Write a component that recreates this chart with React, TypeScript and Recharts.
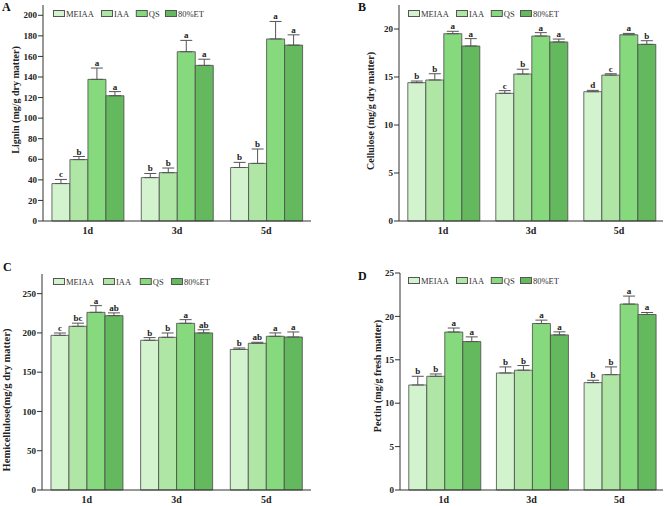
import React from "react";
import { BarChart, Bar, XAxis, YAxis, ErrorBar, LabelList, Legend } from "recharts";

const days = ["1d", "3d", "5d"];
const series = ["MEIAA", "IAA", "QS", "80%ET"];
const colors = ["#d3f2ce", "#afe6a5", "#87d97d", "#64b85e"];

// A: lignin, per series (MEIAA, IAA, QS, 80%ET) across 1d / 3d / 5d
const ligninValues = [
  [36.4, 42.2, 52],
  [59.7, 47, 56],
  [137.7, 164.6, 177],
  [121.8, 151.3, 171],
];
const ligninErrors = [
  [4, 4, 5],
  [3, 4.5, 14],
  [11, 11, 17],
  [4, 6, 10],
];
const ligninLetters = [
  ["c", "b", "b"],
  ["b", "b", "b"],
  ["a", "a", "a"],
  ["a", "a", "a"],
];
const ligninTicks = [0, 20, 40, 60, 80, 100, 120, 140, 160, 180, 200];

// B: cellulose
const celluloseValues = [
  [14.41, 13.3, 13.47],
  [14.69, 15.31, 15.2],
  [19.51, 19.27, 19.4],
  [18.23, 18.65, 18.4],
];
const celluloseErrors = [
  [0.17, 0.28, 0.14],
  [0.65, 0.5, 0.14],
  [0.25, 0.35, 0.14],
  [0.77, 0.3, 0.38],
];
const celluloseLetters = [
  ["b", "c", "d"],
  ["b", "b", "c"],
  ["a", "a", "a"],
  ["a", "a", "b"],
];
const celluloseTicks = [0, 5, 10, 15, 20];

// C: hemicellulose
const hemiValues = [
  [196.9, 190.6, 179],
  [208.4, 194.4, 186.8],
  [226.2, 212.2, 195.7],
  [222, 200, 194.8],
];
const hemiErrors = [
  [3, 3.4, 1.8],
  [4, 5.5, 1.3],
  [8.5, 4.7, 4.3],
  [3.5, 4, 6.4],
];
const hemiLetters = [
  ["c", "b", "b"],
  ["bc", "b", "ab"],
  ["a", "a", "a"],
  ["ab", "ab", "a"],
];
const hemiTicks = [0, 50, 100, 150, 200, 250];

// D: pectin
const pectinValues = [
  [12.1, 13.48, 12.37],
  [13.1, 13.8, 13.29],
  [18.2, 19.18, 21.42],
  [17.1, 17.87, 20.22],
];
const pectinErrors = [
  [1.0, 0.7, 0.27],
  [0.27, 0.54, 0.89],
  [0.46, 0.39, 0.92],
  [0.54, 0.35, 0.23],
];
const pectinLetters = [
  ["b", "b", "b"],
  ["b", "b", "b"],
  ["a", "a", "a"],
  ["a", "a", "a"],
];
const pectinTicks = [0, 5, 10, 15, 20, 25];

const serif = "'Liberation Serif', 'Times New Roman', serif";

type PanelProps = {
  letter: string;
  left: number;
  top: number;
  width: number;
  axisWidth: number;
  marginTop: number;
  marginRight: number;
  xAxisHeight: number;
  marginBottom: number;
  values: number[][];
  errors: number[][];
  letters: string[][];
  ticks: number[];
  domainMax: number;
  title: string;
  titleX: number;
  titleY: number;
  titleSize: number;
  legendX: number;
  legendY: number;
  legendGap: number;
  letterX: number;
  letterY: number;
};

function buildRows(values: number[][], errors: number[][]) {
  return days.map((day, d) => {
    const row: Record<string, any> = { day };
    series.forEach((_, s) => {
      row["s" + s] = values[s][d];
      row["e" + s] = [0, errors[s][d]];
    });
    return row;
  });
}

// legend drawn as svg so the text renders like the tick labels
function LegendRow({ gap }: { gap: number }) {
  let x = 0;
  const items = series.map((s, i) => {
    const start = x;
    const textW = s.length * 5.6 + (s === "MEIAA" ? 2 : 0);
    x += 13 + textW + gap;
    return (
      <g key={s} transform={`translate(${start},0)`}>
        <rect x={0.5} y={1.5} width={11} height={6} fill={colors[i]} stroke="#555" strokeWidth={1} />
        <text x={13} y={8} fontFamily={serif} fontSize={8.5} fill="#333">
          {s}
        </text>
      </g>
    );
  });
  return (
    <svg width={x + 4} height={10} style={{ display: "block" }}>
      {items}
    </svg>
  );
}

function Panel(p: PanelProps) {
  const rows = buildRows(p.values, p.errors);
  const height = 253;
  return (
    <div style={{ position: "absolute", left: p.left, top: p.top, width: p.width, height }}>
      <div
        style={{
          position: "absolute",
          left: p.letterX,
          top: p.letterY,
          fontFamily: serif,
          fontWeight: "bold",
          fontSize: 12,
          lineHeight: "12px",
          color: "#111",
        }}
      >
        {p.letter}
      </div>
      <BarChart
        width={p.width}
        height={height}
        data={rows}
        margin={{ top: p.marginTop, right: p.marginRight, left: 0, bottom: p.marginBottom }}
        barCategoryGap="10%"
        barGap={0}
      >
        <XAxis
          dataKey="day"
          height={p.xAxisHeight}
          tickLine={false}
          tickSize={4}
          axisLine={{ stroke: "#333" }}
          tick={{ fontFamily: serif, fontSize: 10, fontWeight: "bold", fill: "#222" }}
        />
        <XAxis xAxisId="top" dataKey="day" orientation="top" height={0} tick={false} tickLine={false} axisLine={{ stroke: "#888" }} />
        <YAxis
          width={p.axisWidth}
          domain={[0, p.domainMax]}
          ticks={p.ticks}
          interval={0}
          tickSize={5}
          tickMargin={1}
          tickLine={{ stroke: "#333" }}
          axisLine={{ stroke: "#333" }}
          tick={{ fontFamily: serif, fontSize: 9, fontWeight: "bold", fill: "#222" }}
          label={{
            content: () => (
              <text
                x={p.titleX}
                y={p.titleY}
                transform={`rotate(-90 ${p.titleX} ${p.titleY})`}
                textAnchor="middle"
                dominantBaseline="central"
                fontFamily={serif}
                fontWeight="bold"
                fontSize={p.titleSize}
                fill="#222"
              >
                {p.title}
              </text>
            ),
          }}
        />
        <YAxis yAxisId="right" orientation="right" width={0} domain={[0, 1]} tick={false} tickLine={false} axisLine={{ stroke: "#888" }} />
        <Legend
          layout="horizontal"
          verticalAlign="middle"
          align="center"
          wrapperStyle={{ top: p.legendY, left: p.legendX, width: "auto" }}
          content={() => <LegendRow gap={p.legendGap} />}
        />
        {series.map((s, si) => (
          <Bar
            key={s}
            dataKey={"s" + si}
            name={s}
            fill={colors[si]}
            stroke="#4a4a4a"
            strokeWidth={0.8}
            isAnimationActive={false}
          >
            <ErrorBar dataKey={"e" + si} width={6} stroke="#555" strokeWidth={1} direction="y" />
            <LabelList
              dataKey={"s" + si}
              content={(lp: any) => {
                const { x, y, width, height: h, value, index } = lp;
                if (index == null || !value) return null;
                const err = p.errors[si][index];
                const topY = Number(y) - (err * Number(h)) / Number(value);
                return (
                  <text
                    x={Number(x) + Number(width) / 2}
                    y={topY - 2}
                    textAnchor="middle"
                    fontFamily={serif}
                    fontWeight="bold"
                    fontSize={9}
                    fill="#222"
                  >
                    {p.letters[si][index]}
                  </text>
                );
              }}
            />
          </Bar>
        ))}
      </BarChart>
    </div>
  );
}

export default function App() {
  return (
    <div style={{ position: "absolute", left: 0, top: 0, width: 669, height: 506, background: "#fff" }}>
      <Panel
        letter="A"
        left={0}
        top={0}
        width={335}
        axisWidth={43}
        marginTop={5}
        marginRight={24}
        xAxisHeight={20}
        marginBottom={12}
        values={ligninValues}
        errors={ligninErrors}
        letters={ligninLetters}
        ticks={ligninTicks}
        domainMax={210}
        title="Lignin (mg/g dry matter)"
        titleX={15}
        titleY={100}
        titleSize={10}
        legendX={53}
        legendY={9}
        legendGap={5}
        letterX={2}
        letterY={1}
      />
      <Panel
        letter="B"
        left={335}
        top={0}
        width={334}
        axisWidth={64}
        marginTop={5}
        marginRight={6}
        xAxisHeight={20}
        marginBottom={12}
        values={celluloseValues}
        errors={celluloseErrors}
        letters={celluloseLetters}
        ticks={celluloseTicks}
        domainMax={22.5}
        title="Cellulose (mg/g dry matter)"
        titleX={35}
        titleY={111}
        titleSize={10}
        legendX={73}
        legendY={9}
        legendGap={5}
        letterX={23}
        letterY={1}
      />
      <Panel
        letter="C"
        left={0}
        top={253}
        width={335}
        axisWidth={42}
        marginTop={21}
        marginRight={24}
        xAxisHeight={16}
        marginBottom={0}
        values={hemiValues}
        errors={hemiErrors}
        letters={hemiLetters}
        ticks={hemiTicks}
        domainMax={275}
        title="Hemicellulose(mg/g dry matter)"
        titleX={6}
        titleY={147}
        titleSize={10.5}
        legendX={53}
        legendY={24}
        legendGap={7}
        letterX={3}
        letterY={8}
      />
      <Panel
        letter="D"
        left={335}
        top={253}
        width={334}
        axisWidth={65}
        marginTop={20}
        marginRight={6}
        xAxisHeight={16}
        marginBottom={0}
        values={pectinValues}
        errors={pectinErrors}
        letters={pectinLetters}
        ticks={pectinTicks}
        domainMax={25}
        title="Pectin (mg/g fresh matter)"
        titleX={42}
        titleY={123}
        titleSize={10}
        legendX={73}
        legendY={23}
        legendGap={5}
        letterX={23}
        letterY={17}
      />
    </div>
  );
}
